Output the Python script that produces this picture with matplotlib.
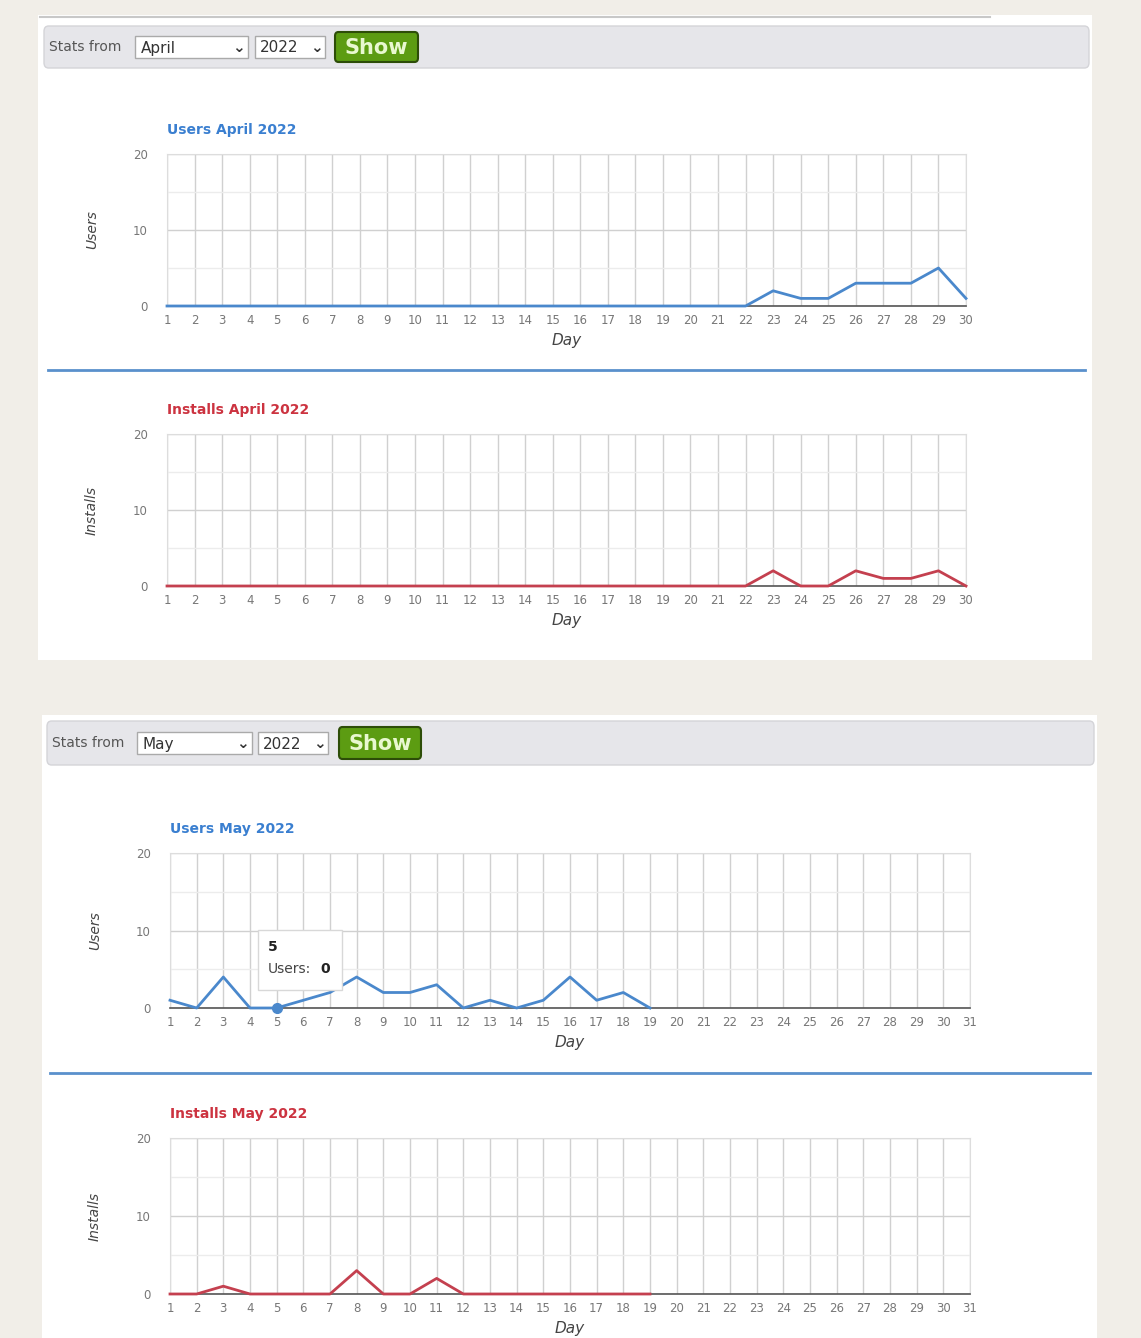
import matplotlib
matplotlib.use("Agg")
import matplotlib.pyplot as plt
from matplotlib.patches import FancyBboxPatch, Rectangle
from matplotlib.lines import Line2D

W, H = 1141, 1338

# ---------------- data ----------------
april_days = list(range(1, 31))
may_days = list(range(1, 32))
april_users = [0]*22 + [2, 1, 1, 3, 3, 3, 5, 1]
april_installs = [0]*22 + [2, 0, 0, 2, 1, 1, 2, 0]
may_data_days = list(range(1, 20))
may_users = [1, 0, 4, 0, 0, 1, 2, 4, 2, 2, 3, 0, 1, 0, 1, 4, 1, 2, 0]
may_installs = [0, 0, 1, 0, 0, 0, 0, 3, 0, 0, 2, 0, 0, 0, 0, 0, 0, 0, 0]
y_ticks = [0, 10, 20]

BLUE = "#4a88cc"
RED = "#c4404f"
TITLE_BLUE = "#3a7fd0"
TITLE_RED = "#cc3340"
BG = "#f1eee8"

fig = plt.figure(figsize=(W/100, H/100), dpi=100)
fig.patch.set_facecolor(BG)


def fx(x):
    return x / W


def fy(y):
    return 1 - y / H


def rect(x0, y0, x1, y1, zorder=-2, **kw):
    fig.patches.append(Rectangle((fx(x0), fy(y1)), fx(x1) - fx(x0), fy(y0) - fy(y1),
                                 transform=fig.transFigure, zorder=zorder, **kw))


def rrect(x0, y0, x1, y1, rad=0.003, zorder=-1, **kw):
    fig.patches.append(FancyBboxPatch((fx(x0), fy(y1)), fx(x1) - fx(x0), fy(y0) - fy(y1),
                                      boxstyle=f"round,pad=0,rounding_size={rad}",
                                      transform=fig.transFigure, zorder=zorder, **kw))


def hline(x0, x1, y, color, lw):
    fig.lines.append(Line2D([fx(x0), fx(x1)], [fy(y), fy(y)], transform=fig.transFigure,
                            color=color, lw=lw, zorder=-1))


def toolbar(x0, y0, x1, y1, month, mx0, mx1, yx0, yx1, bx0, bx1, by0, by1):
    rrect(x0, y0, x1, y1, rad=0.004, facecolor="#e6e6ea", edgecolor="#d4d4d8", lw=1)
    cy = (y0 + y1) / 2
    fig.text(fx(x0 + 5), fy(cy), "Stats from", fontsize=10, color="#555555",
             va="center", ha="left")
    # month select
    rect(mx0, cy - 11, mx1, cy + 11, zorder=0, facecolor="white", edgecolor="#aaaaaa", lw=1)
    fig.text(fx(mx0 + 6), fy(cy + 1), month, fontsize=11, color="#333333", va="center")
    fig.text(fx(mx1 - 10), fy(cy), "\u2304", fontsize=11, color="#333333",
             va="center", ha="center", fontweight="bold")
    # year select
    rect(yx0, cy - 11, yx1, cy + 11, zorder=0, facecolor="white", edgecolor="#aaaaaa", lw=1)
    fig.text(fx(yx0 + 5), fy(cy + 1), "2022", fontsize=11, color="#333333", va="center")
    fig.text(fx(yx1 - 9), fy(cy), "\u2304", fontsize=11, color="#333333",
             va="center", ha="center", fontweight="bold")
    # show button
    rrect(bx0, by0, bx1, by1, rad=0.003, zorder=0, facecolor="#5c9c12",
          edgecolor="#2d4d08", lw=1.5)
    fig.text(fx((bx0 + bx1) / 2), fy((by0 + by1) / 2 + 1), "Show", fontsize=15,
             color="#e8f8d0", fontweight="bold", va="center", ha="center")


def chart(x0, y0, x1, y1, days, xs, ys, color, title, tcolor, ylabel):
    ax = fig.add_axes([fx(x0), fy(y1), fx(x1) - fx(x0), fy(y0) - fy(y1)])
    ax.set_facecolor("white")
    ax.set_xlim(days[0], days[-1])
    ax.set_ylim(0, 20)
    ax.set_xticks(days)
    ax.set_xticklabels([str(d) for d in days])
    ax.set_yticks(y_ticks)
    ax.set_yticks([5, 15], minor=True)
    ax.grid(True, which="major", color="#d0d0d0", lw=1)
    ax.grid(True, which="minor", axis="y", color="#ececec", lw=1)
    ax.tick_params(axis="both", which="both", length=0, labelsize=8.5, colors="#777777")
    ax.tick_params(axis="x", pad=6)
    ax.tick_params(axis="y", pad=14)
    for s in ["top", "right", "left"]:
        ax.spines[s].set_color("#dddddd")
    ax.spines["bottom"].set_color("#555555")
    ax.spines["bottom"].set_linewidth(1.2)
    ax.plot(xs, ys, color=color, lw=2, clip_on=False, zorder=5)
    ax.set_axisbelow(True)
    fig.text(fx(x0), fy(y0 - 24), title, fontsize=10, color=tcolor, fontweight="bold",
             ha="left", va="center")
    fig.text(fx(x0 - 75), fy((y0 + y1) / 2), ylabel, fontsize=10, color="#444444",
             style="italic", rotation=90, ha="center", va="center")
    fig.text(fx((x0 + x1) / 2), fy(y1 + 34), "Day", fontsize=11, color="#444444",
             style="italic", ha="center", va="center")
    return ax


# ------------- panel 1 (April) -------------
rect(38, 15, 1092, 660, facecolor="white", edgecolor="none")
hline(40, 990, 17, "#c8c8c8", 1.5)
toolbar(44, 26, 1089, 68, "April", 135, 248, 255, 325, 335, 418, 32, 62)
chart(167, 154, 966, 306, april_days, april_days, april_users, BLUE,
      "Users April 2022", TITLE_BLUE, "Users")
hline(48, 1085, 370, "#5a90cc", 2)
chart(167, 434, 966, 586, april_days, april_days, april_installs, RED,
      "Installs April 2022", TITLE_RED, "Installs")

# ------------- panel 2 (May) -------------
rect(42, 715, 1097, 1338, facecolor="white", edgecolor="none")
toolbar(47, 721, 1094, 765, "May", 137, 252, 258, 328, 339, 421, 727, 759)
ax3 = chart(170, 853, 970, 1008, may_days, may_data_days, may_users, BLUE,
            "Users May 2022", TITLE_BLUE, "Users")
# hover highlight and tooltip
ax3.plot([5], [may_users[4]], "o", color=BLUE, ms=7, clip_on=False, zorder=6)
rect(258, 930, 342, 990, zorder=10, facecolor="white", edgecolor="#d8d8d8", lw=1)
fig.text(fx(268), fy(947), "5", fontsize=10, fontweight="bold", color="#222222",
         va="center", zorder=11)
fig.text(fx(268), fy(969), "Users:", fontsize=10, color="#444444", va="center", zorder=11)
fig.text(fx(320), fy(969), str(may_users[4]), fontsize=10, fontweight="bold",
         color="#222222", va="center", zorder=11)
hline(50, 1090, 1073, "#5a90cc", 2)
chart(170, 1138, 970, 1294, may_days, may_data_days, may_installs, RED,
      "Installs May 2022", TITLE_RED, "Installs")

fig.savefig("out.png", dpi=100, facecolor=BG)
